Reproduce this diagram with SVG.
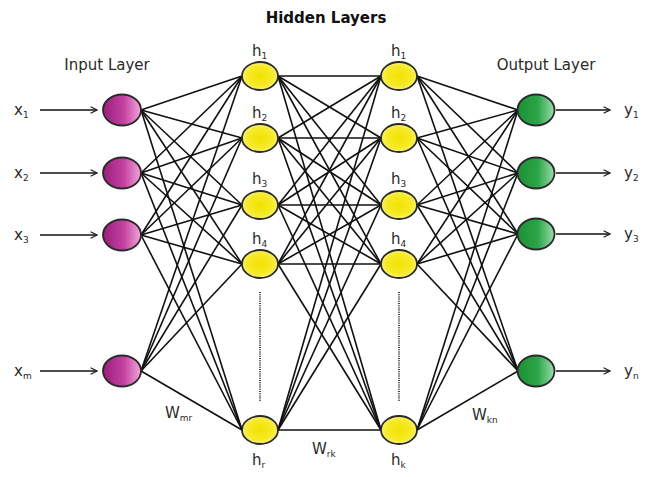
<svg xmlns="http://www.w3.org/2000/svg" width="655" height="477" viewBox="0 0 655 477">
<defs>
<linearGradient id="gp" x1="0" y1="0" x2="1" y2="0"><stop offset="0" stop-color="#9a1d7c"/><stop offset="0.55" stop-color="#c2429f"/><stop offset="1" stop-color="#f3a6dc"/></linearGradient>
<radialGradient id="gy" cx="0.5" cy="0.5" r="0.6"><stop offset="0" stop-color="#f2e200"/><stop offset="0.6" stop-color="#f6ea2a"/><stop offset="1" stop-color="#fbf6a8"/></radialGradient>
<linearGradient id="gg" x1="0" y1="0" x2="1" y2="0"><stop offset="0" stop-color="#1d8f35"/><stop offset="0.55" stop-color="#2aa548"/><stop offset="1" stop-color="#9fdcae"/></linearGradient>
<marker id="ar" viewBox="0 0 10 10" refX="9" refY="5" markerWidth="8" markerHeight="8" markerUnits="userSpaceOnUse" orient="auto"><path d="M1,1 L9,5 L1,9" fill="none" stroke="#222" stroke-width="1.6"/></marker>
</defs>
<style>
text{font-family:"DejaVu Sans","Liberation Sans",Arial,sans-serif;fill:#2a2a2a}
.t{font-size:15px}
.h{font-size:15px;font-weight:bold;fill:#111}
.lab{font-size:15px}
.sub{font-size:9px}
.c line{stroke:#111;stroke-width:1.6}
.n{stroke:#2a2a2a;stroke-width:1.8}
.dot{stroke:#333;stroke-width:2;stroke-dasharray:1 1.2}
.arr{stroke:#222;stroke-width:1.6;marker-end:url(#ar)}
</style>
<rect width="655" height="477" fill="#fff"/>
<text class="h" x="326" y="23" text-anchor="middle">Hidden Layers</text>
<text class="t" x="107" y="70" text-anchor="middle">Input Layer</text>
<text class="t" x="546" y="70" text-anchor="middle">Output Layer</text>
<g class="c" id="connectors">
<line x1="141" y1="110" x2="242" y2="76"/><line x1="141" y1="110" x2="242" y2="138"/><line x1="141" y1="110" x2="242" y2="205"/><line x1="141" y1="110" x2="242" y2="264"/><line x1="141" y1="110" x2="242" y2="430"/>
<line x1="141" y1="173" x2="242" y2="76"/><line x1="141" y1="173" x2="242" y2="138"/><line x1="141" y1="173" x2="242" y2="205"/><line x1="141" y1="173" x2="242" y2="264"/><line x1="141" y1="173" x2="242" y2="430"/>
<line x1="141" y1="235" x2="242" y2="76"/><line x1="141" y1="235" x2="242" y2="138"/><line x1="141" y1="235" x2="242" y2="205"/><line x1="141" y1="235" x2="242" y2="264"/><line x1="141" y1="235" x2="242" y2="430"/>
<line x1="141" y1="371" x2="242" y2="76"/><line x1="141" y1="371" x2="242" y2="138"/><line x1="141" y1="371" x2="242" y2="205"/><line x1="141" y1="371" x2="242" y2="264"/><line x1="141" y1="371" x2="242" y2="430"/>
<line x1="278" y1="76" x2="381" y2="76"/><line x1="278" y1="76" x2="381" y2="138"/><line x1="278" y1="76" x2="381" y2="205"/><line x1="278" y1="76" x2="381" y2="264"/><line x1="278" y1="76" x2="381" y2="430"/>
<line x1="278" y1="138" x2="381" y2="76"/><line x1="278" y1="138" x2="381" y2="138"/><line x1="278" y1="138" x2="381" y2="205"/><line x1="278" y1="138" x2="381" y2="264"/><line x1="278" y1="138" x2="381" y2="430"/>
<line x1="278" y1="205" x2="381" y2="76"/><line x1="278" y1="205" x2="381" y2="138"/><line x1="278" y1="205" x2="381" y2="205"/><line x1="278" y1="205" x2="381" y2="264"/><line x1="278" y1="205" x2="381" y2="430"/>
<line x1="278" y1="264" x2="381" y2="76"/><line x1="278" y1="264" x2="381" y2="138"/><line x1="278" y1="264" x2="381" y2="205"/><line x1="278" y1="264" x2="381" y2="264"/><line x1="278" y1="264" x2="381" y2="430"/>
<line x1="278" y1="430" x2="381" y2="76"/><line x1="278" y1="430" x2="381" y2="138"/><line x1="278" y1="430" x2="381" y2="205"/><line x1="278" y1="430" x2="381" y2="264"/><line x1="278" y1="430" x2="381" y2="430"/>
<line x1="417" y1="76" x2="518" y2="110"/><line x1="417" y1="76" x2="518" y2="173"/><line x1="417" y1="76" x2="518" y2="234"/><line x1="417" y1="76" x2="518" y2="371"/>
<line x1="417" y1="138" x2="518" y2="110"/><line x1="417" y1="138" x2="518" y2="173"/><line x1="417" y1="138" x2="518" y2="234"/><line x1="417" y1="138" x2="518" y2="371"/>
<line x1="417" y1="205" x2="518" y2="110"/><line x1="417" y1="205" x2="518" y2="173"/><line x1="417" y1="205" x2="518" y2="234"/><line x1="417" y1="205" x2="518" y2="371"/>
<line x1="417" y1="264" x2="518" y2="110"/><line x1="417" y1="264" x2="518" y2="173"/><line x1="417" y1="264" x2="518" y2="234"/><line x1="417" y1="264" x2="518" y2="371"/>
<line x1="417" y1="430" x2="518" y2="110"/><line x1="417" y1="430" x2="518" y2="173"/><line x1="417" y1="430" x2="518" y2="234"/><line x1="417" y1="430" x2="518" y2="371"/>
<line class="arr" x1="40" y1="110" x2="97" y2="110"/>
<line class="arr" x1="40" y1="173" x2="97" y2="173"/>
<line class="arr" x1="40" y1="235" x2="97" y2="235"/>
<line class="arr" x1="40" y1="371" x2="97" y2="371"/>
<line class="arr" x1="556" y1="110" x2="610" y2="110"/>
<line class="arr" x1="556" y1="173" x2="610" y2="173"/>
<line class="arr" x1="556" y1="234" x2="610" y2="234"/>
<line class="arr" x1="556" y1="371" x2="610" y2="371"/>
<line class="dot" x1="260" y1="292" x2="260" y2="402"/>
<line class="dot" x1="399" y1="292" x2="399" y2="402"/>
</g>
<g id="x1"><text class="lab" x="14" y="115">x<tspan class="sub" dy="3">1</tspan></text><ellipse class="n" cx="122" cy="110" rx="19" ry="15.5" fill="url(#gp)"/></g>
<g id="x2"><text class="lab" x="14" y="178">x<tspan class="sub" dy="3">2</tspan></text><ellipse class="n" cx="122" cy="173" rx="19" ry="15.5" fill="url(#gp)"/></g>
<g id="x3"><text class="lab" x="14" y="240">x<tspan class="sub" dy="3">3</tspan></text><ellipse class="n" cx="122" cy="235" rx="19" ry="15.5" fill="url(#gp)"/></g>
<g id="xm"><text class="lab" x="14" y="376">x<tspan class="sub" dy="3">m</tspan></text><ellipse class="n" cx="122" cy="371" rx="19" ry="15.5" fill="url(#gp)"/></g>
<g id="h1a"><text class="lab" x="252" y="56">h<tspan class="sub" dy="3">1</tspan></text><ellipse class="n" cx="260" cy="76" rx="18" ry="14" fill="url(#gy)"/></g>
<g id="h2a"><text class="lab" x="252" y="118">h<tspan class="sub" dy="3">2</tspan></text><ellipse class="n" cx="260" cy="138" rx="18" ry="14" fill="url(#gy)"/></g>
<g id="h3a"><text class="lab" x="252" y="184">h<tspan class="sub" dy="3">3</tspan></text><ellipse class="n" cx="260" cy="205" rx="18" ry="14" fill="url(#gy)"/></g>
<g id="h4a"><text class="lab" x="252" y="244">h<tspan class="sub" dy="3">4</tspan></text><ellipse class="n" cx="260" cy="264" rx="18" ry="14" fill="url(#gy)"/></g>
<g id="hr"><ellipse class="n" cx="260" cy="430" rx="18" ry="14" fill="url(#gy)"/><text class="lab" x="252" y="465">h<tspan class="sub" dy="3">r</tspan></text></g>
<g id="h1b"><text class="lab" x="391" y="56">h<tspan class="sub" dy="3">1</tspan></text><ellipse class="n" cx="399" cy="76" rx="18" ry="14" fill="url(#gy)"/></g>
<g id="h2b"><text class="lab" x="391" y="118">h<tspan class="sub" dy="3">2</tspan></text><ellipse class="n" cx="399" cy="138" rx="18" ry="14" fill="url(#gy)"/></g>
<g id="h3b"><text class="lab" x="391" y="184">h<tspan class="sub" dy="3">3</tspan></text><ellipse class="n" cx="399" cy="205" rx="18" ry="14" fill="url(#gy)"/></g>
<g id="h4b"><text class="lab" x="391" y="244">h<tspan class="sub" dy="3">4</tspan></text><ellipse class="n" cx="399" cy="264" rx="18" ry="14" fill="url(#gy)"/></g>
<g id="hk"><ellipse class="n" cx="399" cy="430" rx="18" ry="14" fill="url(#gy)"/><text class="lab" x="391" y="465">h<tspan class="sub" dy="3">k</tspan></text></g>
<g id="y1"><ellipse class="n" cx="536" cy="110" rx="18.5" ry="15.5" fill="url(#gg)"/><text class="lab" x="624" y="115">y<tspan class="sub" dy="3">1</tspan></text></g>
<g id="y2"><ellipse class="n" cx="536" cy="173" rx="18.5" ry="15.5" fill="url(#gg)"/><text class="lab" x="624" y="178">y<tspan class="sub" dy="3">2</tspan></text></g>
<g id="y3"><ellipse class="n" cx="536" cy="234" rx="18.5" ry="15.5" fill="url(#gg)"/><text class="lab" x="624" y="239">y<tspan class="sub" dy="3">3</tspan></text></g>
<g id="yn"><ellipse class="n" cx="536" cy="371" rx="18.5" ry="15.5" fill="url(#gg)"/><text class="lab" x="624" y="376">y<tspan class="sub" dy="3">n</tspan></text></g>
<g id="weights">
<text class="lab" x="165" y="418">W<tspan class="sub" dy="3">mr</tspan></text>
<text class="lab" x="312" y="454">W<tspan class="sub" dy="3">rk</tspan></text>
<text class="lab" x="472" y="420">W<tspan class="sub" dy="3">kn</tspan></text>
</g>
</svg>
